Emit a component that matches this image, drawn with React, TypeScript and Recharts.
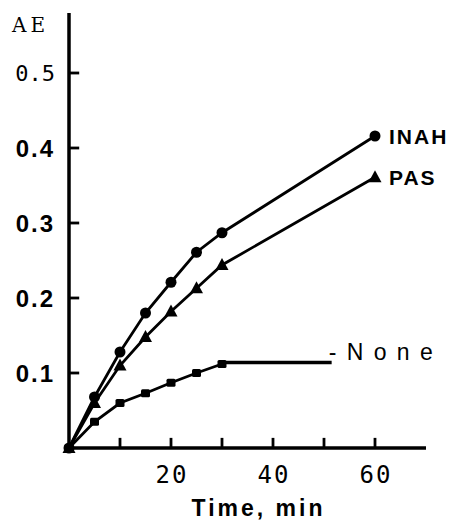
import { LineChart, Line, XAxis, YAxis, LabelList, Label } from 'recharts';

// readings (AE vs time)
const times = [0, 5, 10, 15, 20, 25, 30, 60];
const inahValues = [0, 0.068, 0.128, 0.18, 0.221, 0.261, 0.287, 0.416];
const pasValues = [0, 0.06, 0.11, 0.148, 0.182, 0.213, 0.244, 0.361];
const noneTimes = [0, 5, 10, 15, 20, 25, 30];
const noneValues = [0, 0.035, 0.06, 0.073, 0.087, 0.1, 0.112];
// the leader line running from the last "None" point to its label
const leaderTimes = [30, 51.5];
const leaderValues = [0.114, 0.114];

const yTicks = [0.1, 0.2, 0.3, 0.4, 0.5];
const xTicks = [10, 20, 30, 40, 50, 60];
const xLabelled = [20, 40, 60];

const toRows = (xs: number[], ys: number[]) => xs.map((t, i) => ({ time: t, ae: ys[i] }));
const inahData = toRows(times, inahValues);
const pasData = toRows(times, pasValues);
const noneData = toRows(noneTimes, noneValues);
const leaderData = toRows(leaderTimes, leaderValues);

// inward tick marks, drawn as tiny series in data units (~10px long)
const Y_TICK_LEN = 2;
const X_TICK_LEN = 0.0135;
const yTickMarks = yTicks.map((v) => toRows([0, Y_TICK_LEN], [v, v]));
const xTickMarks = xTicks.map((t) => toRows([t, t], [0, X_TICK_LEN]));

const MONO = '"DejaVu Sans Mono", monospace';
const SANS = '"Liberation Sans", Arial, sans-serif';

const CircleDot = (p: any) => <circle key={`c${p.index}`} cx={p.cx} cy={p.cy} r={5.5} fill="#000" />;
const TriDot = (p: any) => (
  <path
    key={`t${p.index}`}
    d={`M${p.cx},${p.cy - 7} L${p.cx + 6.5},${p.cy + 5} L${p.cx - 6.5},${p.cy + 5} Z`}
    fill="#000"
  />
);
const SquareDot = (p: any) => (
  <rect key={`s${p.index}`} x={p.cx - 4.5} y={p.cy - 4} width={9} height={8} rx={1.5} fill="#000" />
);

const YTick = (p: any) => {
  const v = p.payload.value;
  const light = v === 0.5;
  return (
    <text
      x={p.x + 2}
      y={p.y}
      dy="0.36em"
      textAnchor="end"
      fill="#000"
      fontFamily={light ? MONO : SANS}
      fontWeight={light ? 400 : 700}
      fontSize={light ? 22 : 24}
      letterSpacing={light ? 0 : 2}
    >
      {v.toFixed(1)}
    </text>
  );
};

const XTick = (p: any) => {
  const v = p.payload.value;
  if (!xLabelled.includes(v)) return <g />;
  return (
    <text x={p.x + 1} y={p.y} dy={9} textAnchor="middle" fill="#000" fontFamily={MONO} fontSize={24} letterSpacing={2}>
      {v}
    </text>
  );
};

const endLabel = (name: string, last: number) => (p: any) =>
  p.index === last ? (
    <text x={p.x + 14} y={p.y} dy="0.36em" fill="#000" fontFamily={SANS} fontWeight={700} fontSize={21} letterSpacing={2}>
      {name}
    </text>
  ) : null;

const noneLabel = (p: any) =>
  p.index === leaderTimes.length - 1 ? (
    <text x={p.x - 3} y={p.y - 11} dy="0.36em" fill="#000" fontFamily={SANS} fontSize={23} letterSpacing={2}>
      - N o n e
    </text>
  ) : null;

export default function App() {
  return (
    <div style={{ position: 'absolute', left: 0, top: 0 }}>
      <LineChart width={451} height={520} margin={{ top: 13, right: 25, bottom: 0, left: 9 }}>
        <XAxis
          type="number"
          dataKey="time"
          domain={[0, 70]}
          ticks={xTicks}
          height={72}
          axisLine={{ stroke: '#000', strokeWidth: 3.5 }}
          tickLine={false}
          tickSize={0}
          tickMargin={26}
          tick={<XTick />}
        >
          <Label
            content={(p: any) => (
              <text
                x={p.viewBox.x + p.viewBox.width / 2 + 11}
                y={p.viewBox.y + 68}
                textAnchor="middle"
                fill="#000"
                fontFamily={SANS}
                fontWeight={700}
                fontSize={23}
                letterSpacing={3}
              >
                Time,  min
              </text>
            )}
          />
        </XAxis>
        <YAxis
          type="number"
          domain={[0, 0.58]}
          ticks={yTicks}
          width={60}
          axisLine={{ stroke: '#000', strokeWidth: 3.5 }}
          tickLine={false}
          tickSize={0}
          tickMargin={16}
          tick={<YTick />}
        >
          <Label
            content={(p: any) => (
              <text x={p.viewBox.x + 3} y={p.viewBox.y + 19} fill="#000" fontFamily='"DejaVu Serif", serif' fontSize={20} letterSpacing={4}>
                AE
              </text>
            )}
          />
        </YAxis>
        {yTickMarks.map((d, i) => (
          <Line key={`ytm${i}`} data={d} dataKey="ae" stroke="#000" strokeWidth={2.8} dot={false} isAnimationActive={false} />
        ))}
        {xTickMarks.map((d, i) => (
          <Line key={`xtm${i}`} data={d} dataKey="ae" stroke="#000" strokeWidth={2.8} dot={false} isAnimationActive={false} />
        ))}
        <Line data={inahData} dataKey="ae" stroke="#000" strokeWidth={2.8} dot={CircleDot} isAnimationActive={false}>
          <LabelList dataKey="ae" content={endLabel('INAH', times.length - 1)} />
        </Line>
        <Line data={pasData} dataKey="ae" stroke="#000" strokeWidth={2.8} dot={TriDot} isAnimationActive={false}>
          <LabelList dataKey="ae" content={endLabel('PAS', times.length - 1)} />
        </Line>
        <Line data={noneData} dataKey="ae" stroke="#000" strokeWidth={2.8} dot={SquareDot} isAnimationActive={false} />
        <Line data={leaderData} dataKey="ae" stroke="#000" strokeWidth={3.5} dot={false} isAnimationActive={false}>
          <LabelList dataKey="ae" content={noneLabel} />
        </Line>
      </LineChart>
    </div>
  );
}
